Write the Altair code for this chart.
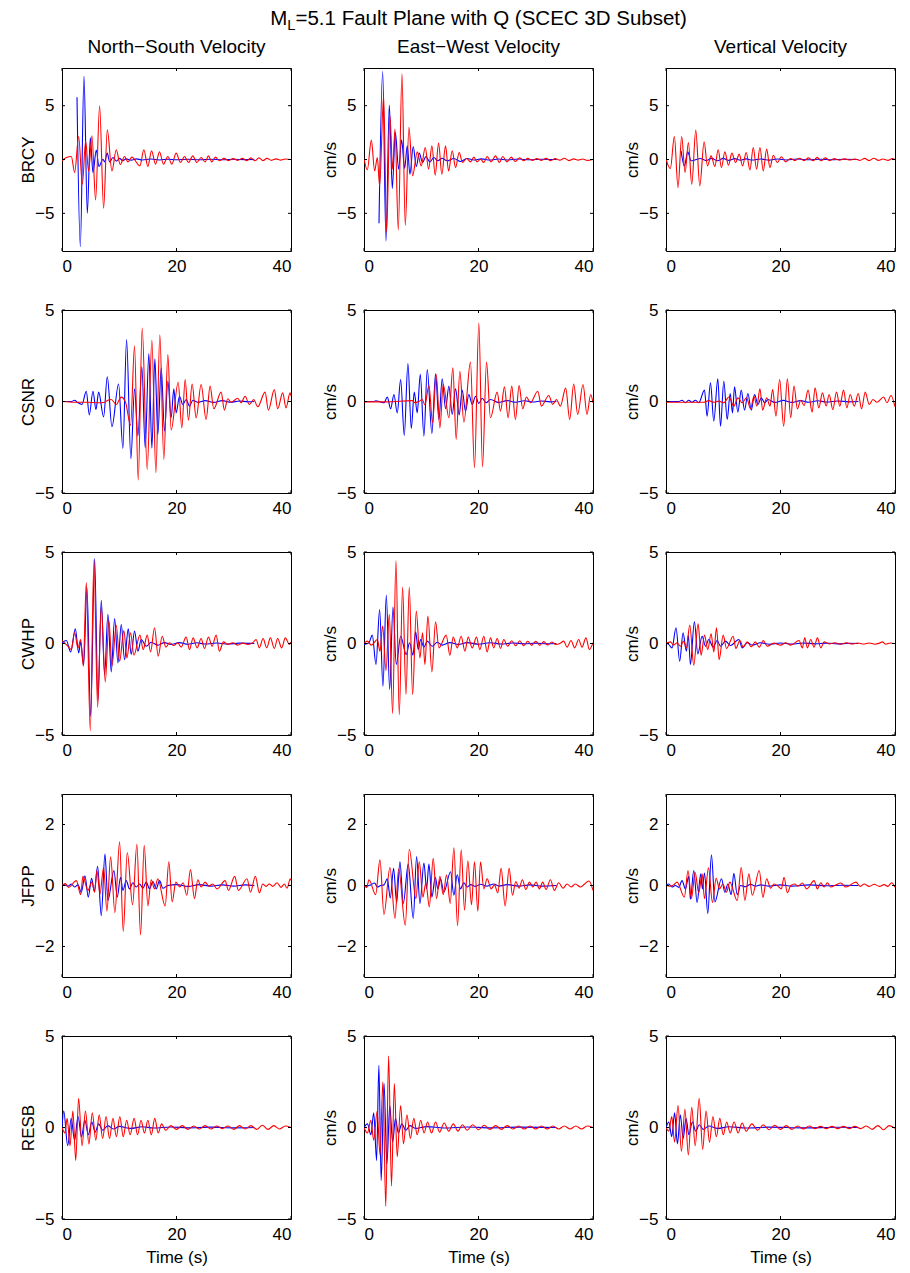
import altair as alt
import pandas as pd

STATIONS = ["BRCY", "CSNR", "CWHP", "JFPP", "RESB"]
COMPONENTS = ["North\u2212South Velocity", "East\u2212West Velocity", "Vertical Velocity"]
Y_LIMITS = [8.5, 5, 5, 3, 5]
Y_TICKS = [[-5, 0, 5], [-5, 0, 5], [-5, 0, 5], [-2, 0, 2], [-5, 0, 5]]
X_TICKS = [0, 20, 40]
TITLE_PARTS = ["M", "L", "=5.1 Fault Plane with Q (SCEC 3D Subset)"]

# ---- BRCY ----
BRCY_NS_BLUE = [(2.62,5.78),(3.2,-8.1),(3.84,7.73),(4.42,-5.0),(4.94,2.02),(5.41,-1.21),(5.99,0.87),(6.45,-0.65),(7.15,0.03),(7.44,-0.22),(7.91,0.59),(8.31,-0.22),(8.9,0.19),(9.5,-0.15),(10.06,0.1),(10.6,-0.1),(11.2,0.06),(12.1,-0.06),(13.0,0.06),(14.0,-0.04),(15.5,0.04),(17.0,-0.04),(18.5,0.03),(20.0,-0.03),(22.0,0.03),(24.0,-0.02),(26.0,0.02),(28.0,-0.02),(30.0,0.02),(32.0,-0.01),(33.6,0.0)]
BRCY_NS_RED = [(0,-0.12),(0.76,0.19),(1.63,0.28),(2.21,-1.21),(2.91,2.14),(3.55,-2.3),(4.13,1.71),(4.65,-1.09),(5.23,2.2),(5.87,-3.76),(6.57,5.0),(7.27,-4.53),(7.91,2.76),(8.72,-1.06),(9.48,0.9),(10.17,-0.47),(10.93,0.28),(11.51,-0.22),(12.21,0.22),(13.6,-0.59),(14.3,0.9),(15.0,-0.65),(15.64,0.81),(16.34,-0.43),(17.03,0.71),(17.73,-0.43),(18.49,0.28),(19.19,-0.43),(19.94,0.59),(20.7,-0.28),(21.4,0.28),(22.1,-0.28),(22.85,0.34),(23.55,-0.28),(24.3,0.19),(25.0,-0.22),(25.58,0.34),(26.16,-0.22),(26.8,0.22),(27.5,-0.12),(28.3,0.1),(29.1,-0.1),(29.9,0.08),(30.7,-0.08),(31.5,0.1),(32.3,-0.1),(33.0,0.15),(33.7,-0.12),(34.4,0.15),(35.1,-0.1),(35.8,0.1),(36.6,-0.08),(37.4,0.06),(38.2,-0.06),(39.0,0.05),(40.0,0.0)]
BRCY_EW_BLUE = [(2.62,-5.93),(3.26,8.17),(3.84,-7.58),(4.42,5.06),(4.94,-2.7),(5.47,2.52),(6.05,-0.9),(6.57,1.83),(7.09,-0.84),(7.56,1.27),(8.02,-1.37),(8.6,1.21),(9.13,-0.65),(9.65,0.59),(10.23,-0.28),(10.81,0.28),(11.51,-0.22),(12.2,0.19),(12.9,-0.12),(13.66,0.12),(14.5,-0.12),(15.7,0.09),(16.86,-0.19),(18.0,0.09),(19.2,-0.05),(20.5,0.06),(22.0,-0.05),(23.5,0.05),(25.0,-0.04),(27.0,0.04),(29.0,-0.03),(31.0,0.03),(33.6,0.0)]
BRCY_EW_RED = [(0,0.09),(0.58,-0.96),(1.28,1.8),(1.86,-1.06),(2.33,0.19),(2.73,-2.45),(3.43,5.93),(3.95,-6.74),(4.53,4.07),(5.0,-0.9),(5.41,2.83),(5.99,-6.55),(6.63,7.95),(7.21,-6.12),(7.85,2.98),(8.49,-1.52),(9.3,0.71),(10.0,-0.59),(10.7,1.12),(11.28,-0.9),(11.86,1.27),(12.44,-1.46),(13.02,1.52),(13.6,-1.37),(14.24,1.27),(14.77,-1.06),(15.41,0.81),(15.99,-0.75),(16.63,0.65),(17.21,-0.28),(17.91,0.09),(18.6,-0.22),(19.19,0.22),(19.77,-0.22),(20.35,0.03),(20.93,-0.28),(21.51,0.28),(22.21,-0.22),(22.97,0.34),(23.66,-0.28),(24.24,0.28),(25.0,-0.22),(25.7,0.22),(26.45,-0.19),(27.2,0.16),(27.9,-0.12),(28.6,0.1),(29.4,-0.08),(30.2,0.08),(31.0,-0.08),(31.8,0.1),(32.6,-0.1),(33.4,0.08),(34.2,-0.06),(35.0,0.12),(35.8,-0.1),(36.6,0.06),(37.4,-0.06),(38.2,0.05),(39.0,-0.08),(40.0,0.0)]
BRCY_V_BLUE = [(2.63,0.81),(3.21,-0.59),(3.8,0.71),(4.38,-0.12),(5.14,-0.03),(6.01,0.09),(7.0,-0.1),(8.0,0.1),(9.0,-0.12),(10.0,0.1),(11.0,-0.08),(12.0,0.08),(13.0,-0.06),(14.0,0.06),(15.0,-0.05),(16.5,0.05),(18.0,-0.06),(19.5,0.05),(21.0,-0.04),(23.0,0.04),(25.0,-0.03),(27.0,0.03),(29.0,-0.03),(31.0,0.02),(33.6,0.0)]
BRCY_V_RED = [(0,0.03),(0.76,-0.84),(1.46,2.14),(2.1,-2.61),(2.74,2.14),(3.33,-1.21),(3.91,1.58),(4.5,-2.3),(5.2,2.73),(5.9,-2.45),(6.66,1.65),(7.24,-0.59),(7.88,0.34),(8.53,-0.65),(9.11,0.9),(9.69,-0.75),(10.28,0.71),(10.92,-0.53),(11.5,0.59),(12.15,-0.28),(12.79,0.5),(13.37,-0.59),(14.01,0.65),(14.66,-0.96),(15.24,1.12),(15.82,-0.9),(16.41,1.12),(16.99,-1.06),(17.58,0.96),(18.16,-0.75),(18.74,0.4),(19.45,-0.28),(20.15,0.25),(20.9,-0.22),(21.78,0.09),(22.5,-0.1),(23.3,0.12),(24.1,-0.1),(24.9,0.15),(25.7,-0.12),(26.4,0.2),(27.1,-0.12),(27.8,0.15),(28.6,-0.1),(29.4,0.08),(30.3,-0.06),(31.2,0.06),(32.1,-0.05),(33.0,0.05),(33.9,-0.08),(34.7,0.1),(35.5,-0.1),(36.3,0.12),(37.1,-0.08),(37.9,0.05),(38.8,-0.08),(39.5,0.08),(40.0,0.0)]

# ---- CSNR ----
CSNR_NS_BLUE = [(0,0),(1.63,0),(2.21,0.07),(2.67,-0.04),(3.49,-0.16),(4.24,0.56),(4.77,-0.73),(5.41,0.56),(5.93,-0.44),(6.4,0.51),(7.27,-0.84),(7.91,1.35),(8.72,-1.38),(9.88,0.96),(10.64,-2.56),(11.28,3.38),(12.03,-3.13),(12.67,0.69),(13.26,-1.89),(13.95,1.89),(14.53,-2.53),(15.17,2.62),(15.7,-2.55),(16.22,2.33),(16.74,-1.8),(17.33,1.84),(17.91,-1.62),(18.49,1.11),(19.07,-0.89),(19.53,0.69),(19.94,-0.62),(20.52,0.29),(21.1,-0.16),(21.69,0.11),(22.27,-0.25),(22.85,0.07),(23.72,-0.04),(25.0,0.05),(26.5,-0.05),(28.0,0.05),(29.5,-0.04),(31.0,0.03),(32.5,-0.02),(33.6,0.0)]
CSNR_NS_RED = [(0,0),(2.21,-0.04),(4.53,-0.04),(6.28,-0.07),(7.44,-0.04),(8.02,0.07),(8.6,0.11),(9.48,-0.16),(10.35,0.24),(11.1,-0.04),(11.98,-1.31),(12.67,3.05),(13.31,-4.29),(14.01,4.02),(14.88,-3.71),(15.7,3.35),(16.4,-3.89),(17.09,3.65),(17.79,-3.16),(18.49,2.56),(19.07,-1.56),(20.29,1.05),(20.93,-1.44),(21.51,1.2),(22.09,-1.02),(22.73,0.96),(23.43,-0.89),(24.3,0.93),(25.17,-0.98),(25.87,0.84),(26.51,-0.4),(27.79,0.51),(28.37,-0.47),(28.95,0.15),(29.53,-0.04),(30.7,0.18),(31.28,-0.07),(31.98,0.29),(32.73,-0.16),(33.49,0.11),(34.19,-0.29),(35.47,0.51),(36.05,-0.47),(37.09,0.65),(37.67,-0.4),(38.55,0.47),(39.13,-0.35),(39.83,0.47),(40.0,0.3)]
CSNR_EW_BLUE = [(0,0),(1.74,0),(2.03,0.04),(2.91,-0.02),(3.49,-0.07),(4.07,0.24),(4.65,-0.4),(5.23,0.38),(5.81,-0.62),(6.4,1.2),(7.03,-1.85),(7.67,2.07),(8.26,-1.47),(8.78,0.51),(9.3,-0.62),(9.83,1.49),(10.47,-1.89),(11.05,1.75),(11.86,-1.75),(12.5,1.51),(13.08,-0.98),(13.66,1.24),(14.24,-0.4),(14.83,0.84),(15.41,-0.71),(15.99,0.69),(16.63,-0.73),(17.15,0.62),(17.73,-0.53),(18.31,0.38),(18.9,-0.16),(19.48,0.29),(20.06,-0.11),(20.64,0.18),(21.34,-0.07),(22.09,0.11),(23.5,-0.05),(25.0,0.05),(26.5,-0.04),(28.0,0.04),(29.5,-0.03),(31.0,0.03),(32.5,-0.02),(33.6,0.0)]
CSNR_EW_RED = [(0,-0.02),(4.07,-0.02),(8.43,0.05),(8.9,-0.07),(9.59,0),(10.17,0.11),(10.64,-0.18),(11.34,0.87),(11.98,-1.16),(12.62,1.47),(13.26,-1.44),(13.84,0.93),(14.83,-0.89),(15.52,1.84),(16.1,-2.07),(16.74,1.65),(17.44,-1.13),(18.6,2.15),(19.3,-3.62),(20.06,4.29),(20.7,-3.58),(21.4,2.15),(22.09,-0.89),(23.26,0.51),(23.84,-0.53),(24.53,0.8),(25.17,-0.89),(25.81,0.84),(26.45,-0.98),(27.09,0.87),(27.73,-0.4),(28.37,0.25),(29.07,-0.07),(30.35,0.56),(30.99,-0.25),(32.27,0.33),(32.97,-0.16),(33.6,0.11),(34.3,-0.25),(35.23,0.73),(35.93,-0.98),(36.63,0.96),(37.33,-0.71),(38.26,0.93),(38.95,-0.71),(39.59,0.38),(40.0,-0.07)]
CSNR_V_BLUE = [(0,0),(2.22,0),(2.8,0.07),(3.39,-0.07),(3.97,0.07),(4.55,-0.04),(5.14,0.07),(5.72,-0.07),(6.72,0.62),(7.18,-0.8),(7.77,1.02),(8.35,-1.07),(9.05,1.24),(9.52,-1.35),(10.1,1.11),(10.69,-0.98),(11.21,0.44),(11.62,-0.62),(11.97,0.8),(12.55,-0.58),(13.14,0.62),(13.72,-0.47),(14.31,0.44),(14.89,-0.47),(15.47,0.38),(16.06,-0.16),(16.64,0.2),(17.23,-0.07),(17.81,0.11),(19.0,-0.05),(20.5,0.06),(22.0,-0.05),(23.5,0.05),(25.0,-0.04),(26.5,0.04),(28.0,-0.03),(30.0,0.03),(32.0,-0.02),(33.6,0.0)]
CSNR_V_RED = [(0,-0.04),(6.6,-0.04),(7.47,0.05),(8.35,-0.04),(9.23,0.02),(10.1,-0.07),(10.98,0.25),(11.85,-0.25),(12.55,0.2),(13.31,-0.07),(14.07,0.2),(14.77,-0.4),(15.36,0.29),(15.88,-0.25),(16.41,0.69),(16.88,-0.47),(17.58,0.2),(18.16,-0.25),(18.63,0.65),(19.21,-0.8),(19.85,1.2),(20.55,-1.35),(21.2,1.24),(21.78,-0.89),(22.36,0.84),(22.95,-0.4),(23.53,0.07),(24.12,-0.22),(24.82,0.62),(25.52,-0.58),(26.04,0.75),(26.69,-0.35),(27.33,0.47),(27.97,-0.25),(28.5,0.38),(29.14,-0.44),(29.78,0.51),(30.36,-0.25),(31.01,0.62),(31.59,-0.35),(32.18,0.38),(32.88,-0.25),(33.58,0.44),(34.16,-0.4),(34.8,0.51),(35.5,-0.16),(36.15,0.11),(36.85,-0.04),(38.01,0.25),(38.6,-0.07),(39.3,0.33),(40.0,-0.29)]

# ---- CWHP ----
CWHP_NS_BLUE = [(0,0.04),(0.76,0.16),(1.51,-0.46),(2.33,0.8),(2.91,-0.51),(3.26,0.09),(3.78,-1.19),(4.36,3.05),(5.0,-3.99),(5.7,4.64),(6.28,-3.13),(6.86,2.36),(7.44,-1.7),(8.02,1.59),(8.6,-1.55),(9.19,1.37),(9.77,-1.06),(10.35,1.04),(10.93,-0.88),(11.57,0.8),(12.09,-0.6),(12.67,0.68),(13.26,-0.42),(13.84,0.22),(14.71,-0.15),(15.58,0.07),(16.74,-0.09),(17.91,0.05),(19.07,-0.05),(20.5,0.05),(22.0,-0.04),(23.5,0.04),(25.0,-0.03),(27.0,0.03),(29.0,-0.03),(31.0,0.02),(33.6,0.0)]
CWHP_NS_RED = [(0,0.16),(1.05,-0.15),(1.63,-0.33),(2.21,0.59),(2.79,-0.24),(3.26,0.22),(3.72,-1.24),(4.24,3.33),(4.94,-4.77),(5.58,4.55),(6.22,-3.49),(6.86,1.99),(7.56,-2.1),(8.2,1.26),(8.72,-1.24),(9.48,0.99),(10.06,-0.97),(10.81,0.71),(11.34,-0.79),(11.98,0.59),(12.56,-0.64),(13.6,0.46),(14.19,-0.33),(14.88,0.46),(15.47,-0.46),(16.16,0.86),(16.8,-0.69),(17.5,0.4),(18.14,-0.2),(18.78,0.04),(19.53,-0.11),(20.23,0.04),(20.81,-0.2),(21.69,0.35),(22.27,-0.33),(22.91,0.31),(23.6,-0.24),(24.3,0.27),(24.88,-0.27),(25.58,0.35),(26.22,-0.15),(26.92,0.46),(27.5,-0.42),(28.2,0.09),(28.95,-0.05),(29.83,0.04),(30.7,-0.09),(31.57,0.02),(32.44,-0.05),(33.31,0.04),(33.9,0.22),(34.48,-0.24),(35.12,0.27),(35.76,-0.24),(36.4,0.31),(37.09,-0.27),(37.67,0.27),(38.37,-0.24),(39.01,0.31),(39.71,-0.05),(40.0,0.09)]
CWHP_EW_BLUE = [(0,-0.05),(0.87,0.04),(1.45,0.46),(2.09,-1.15),(2.73,1.86),(3.31,-2.34),(3.9,2.65),(4.48,-2.52),(5.06,1.99),(5.64,-1.15),(6.4,0.4),(7.38,-0.6),(7.97,0.04),(8.55,-0.64),(9.01,0.64),(9.48,-0.33),(9.88,0.22),(10.47,-0.2),(11.05,0.13),(11.92,-0.15),(12.79,0.07),(13.66,-0.09),(15.0,0.05),(16.5,-0.05),(18.0,0.05),(20.0,-0.04),(22.0,0.04),(24.0,-0.03),(26.0,0.03),(28.0,-0.02),(30.0,0.02),(32.0,-0.02),(33.6,0.0)]
CWHP_EW_RED = [(0,0),(0.58,0.13),(1.28,-0.09),(2.33,0.22),(2.79,-0.42),(3.26,0.95),(3.84,-1.48),(4.42,1.59),(5.0,-3.84),(5.58,4.52),(6.16,-3.89),(6.74,3.09),(7.33,-2.8),(7.91,3.09),(8.49,-2.8),(9.13,1.77),(9.77,-0.79),(10.23,0.58),(10.64,-1.15),(11.16,1.5),(11.86,-1.55),(12.5,1.19),(13.08,-0.24),(14.36,0.46),(15.0,-0.64),(15.58,0.35),(16.28,-0.24),(16.98,0.4),(17.62,-0.42),(18.2,0.35),(18.9,-0.24),(19.65,0.35),(20.23,-0.33),(20.93,0.4),(21.51,-0.46),(22.09,0.31),(22.67,-0.24),(23.26,0.27),(23.84,-0.27),(24.42,0.22),(25.1,-0.15),(25.8,0.15),(26.5,-0.12),(27.2,0.15),(27.9,-0.12),(28.6,0.12),(29.3,-0.1),(30.0,0.12),(30.7,-0.1),(31.4,0.1),(32.1,-0.08),(32.8,0.08),(33.5,-0.05),(34.3,0.02),(34.88,0.13),(35.47,-0.2),(36.16,0.16),(36.8,-0.24),(37.5,0.22),(38.08,-0.2),(38.78,0.31),(39.36,-0.33),(40.0,0.04)]
CWHP_V_BLUE = [(0,0),(0.47,-0.05),(1.05,-0.24),(1.75,0.86),(2.39,-0.97),(2.98,0.59),(3.56,-0.42),(3.91,0.46),(4.26,-1.15),(4.96,1.19),(5.55,-0.57),(6.31,0.4),(6.89,-0.15),(7.47,0.22),(8.23,-0.2),(8.93,0.16),(9.52,-0.15),(10.39,0.13),(11.27,-0.11),(12.73,0.22),(13.31,-0.24),(14.19,0.05),(15.07,-0.09),(16.5,0.04),(18.0,-0.04),(20.0,0.03),(22.0,-0.03),(24.0,0.03),(26.0,-0.02),(28.0,0.02),(30.0,-0.02),(32.0,0.01),(33.6,0.0)]
CWHP_V_RED = [(0,0),(0.76,0.09),(1.34,-0.09),(1.93,0.04),(2.51,-0.15),(3.09,0.13),(3.56,-0.24),(4.15,1.01),(4.85,-1.19),(5.61,1.08),(6.13,-0.64),(6.72,0.46),(7.3,-0.33),(7.88,0.53),(8.35,-0.46),(8.82,0.86),(9.28,-0.88),(9.99,0.46),(10.57,-0.27),(11.74,0.4),(12.2,-0.27),(12.91,0.16),(13.49,-0.2),(14.19,0.09),(14.89,-0.18),(15.59,0.09),(16.29,-0.2),(16.99,0.16),(17.69,-0.15),(18.86,0.02),(20.03,-0.09),(20.9,0.04),(21.78,-0.09),(23.24,0.16),(23.82,-0.24),(24.23,0.31),(24.7,-0.24),(25.28,0.22),(25.87,-0.2),(26.45,0.31),(27.04,-0.24),(27.62,0.09),(28.5,-0.02),(29.5,0.04),(30.5,-0.04),(31.5,0.04),(32.5,-0.03),(33.5,0.03),(34.5,-0.03),(35.5,0.03),(36.5,-0.04),(37.3,0.02),(37.8,0.09),(38.4,-0.04),(39.2,0.03),(40.0,0.0)]

# ---- JFPP ----
JFPP_NS_BLUE = [(0,0),(0.47,0.02),(1.05,-0.02),(1.63,0.05),(2.21,-0.05),(2.79,0.02),(3.37,-0.22),(4.01,0.32),(4.59,-0.38),(5.17,0.24),(5.64,-0.19),(6.22,0.63),(6.86,-0.99),(7.5,1.03),(8.02,-0.49),(9.07,0.49),(9.65,-0.38),(10.23,0.27),(10.64,-0.16),(11.22,0.16),(11.8,-0.11),(12.38,0.09),(12.97,-0.05),(13.55,0.05),(14.13,-0.09),(14.71,0.11),(15.29,-0.11),(15.87,0.13),(16.45,-0.11),(17.03,0.16),(17.62,-0.09),(18.49,0.0),(20.0,0.03),(22.0,-0.03),(24.0,0.03),(26.0,-0.02),(28.0,0.02),(30.0,-0.02),(32.0,0.02),(33.6,0.0)]
JFPP_NS_RED = [(0,0),(0.58,0.06),(1.16,-0.06),(2.5,0.16),(3.26,-0.3),(3.66,0.3),(4.53,-0.16),(5.23,0.11),(5.7,-0.22),(6.1,0.49),(6.63,-0.27),(7.27,0.59),(7.85,-0.84),(8.49,0.94),(9.24,-0.89),(10.06,1.43),(10.7,-1.51),(11.4,1.08),(12.33,-0.63),(13.08,1.35),(13.72,-1.62),(14.36,1.32),(15.0,-0.67),(15.58,0.19),(16.16,-0.11),(16.74,0.22),(18.02,-0.67),(18.66,0.78),(19.24,-0.54),(19.88,0.11),(20.58,-0.05),(21.16,0.09),(21.8,-0.32),(22.44,0.52),(23.14,-0.43),(23.72,0.19),(24.3,-0.05),(25.0,0.11),(25.64,-0.02),(26.34,0.05),(27.09,-0.11),(28.49,0.16),(29.07,-0.16),(30.17,0.3),(30.81,-0.16),(32.33,0.22),(32.91,-0.22),(33.78,0.3),(34.48,-0.24),(35.06,0.05),(35.64,-0.03),(36.22,0.05),(36.8,-0.03),(37.56,0.09),(38.26,-0.06),(38.84,0.05),(39.3,-0.09),(39.88,0.22),(40.0,0.16)]
JFPP_EW_BLUE = [(0,0),(0.58,-0.02),(1.16,0.02),(1.86,0.08),(2.33,-0.05),(2.91,0),(3.49,0.02),(4.07,0.22),(4.59,-0.41),(5.17,0.56),(5.7,-0.56),(6.28,0.78),(6.86,-0.59),(7.73,0.7),(8.6,-1.08),(9.19,0.95),(9.77,-0.59),(10.47,0.74),(10.93,-0.11),(11.34,0.7),(11.86,-0.38),(12.44,0.27),(12.91,-0.11),(13.37,0.22),(13.95,-0.22),(15.12,0.45),(15.7,-0.32),(16.28,0.35),(16.86,-0.11),(17.44,0.09),(18.02,-0.05),(18.6,0.03),(19.48,-0.03),(20.35,0.04),(21.51,-0.02),(22.67,0.05),(23.55,-0.02),(25.0,0.03),(27.0,-0.02),(29.0,0.02),(31.0,-0.02),(33.6,0.0)]
JFPP_EW_RED = [(0,0),(0.47,-0.06),(0.87,0.19),(2.03,-0.3),(2.79,0.84),(3.49,-0.95),(4.53,0.59),(5.41,-1.08),(6.05,0.54),(7.21,-1.3),(7.91,1.19),(9.07,-0.43),(9.65,0.78),(10.29,-0.38),(10.81,0.09),(11.4,-0.7),(12.09,0.89),(12.67,-0.43),(13.26,0.3),(13.84,-0.3),(14.42,0.35),(15.06,-0.59),(15.7,1.24),(16.34,-1.32),(16.98,1.17),(17.56,-0.81),(18.14,0.81),(18.78,-0.63),(19.3,0.78),(19.88,-0.84),(20.35,0.78),(20.93,-0.11),(21.51,0.22),(22.21,-0.11),(22.79,0.02),(23.37,-0.24),(23.95,0.56),(24.65,-0.67),(25.35,0.56),(25.93,-0.32),(26.51,0.13),(27.09,-0.09),(27.67,0.19),(28.26,-0.13),(28.9,0.11),(29.48,-0.05),(30.06,0.11),(30.64,-0.11),(31.22,0.11),(31.8,-0.13),(32.56,0.19),(33.26,-0.16),(34.01,0.09),(34.77,-0.09),(35.47,0.05),(36.16,-0.05),(36.92,0.05),(37.79,-0.05),(39.3,0.15),(40.0,-0.16)]
JFPP_V_BLUE = [(0,0),(0.47,0.05),(1.05,-0.05),(1.64,0),(2.22,-0.06),(2.8,0.16),(3.39,-0.11),(3.97,0.3),(4.26,-0.45),(4.85,0.49),(5.43,-0.56),(6.07,0.38),(6.36,-0.11),(6.72,0.41),(7.3,-0.92),(7.94,1.01),(8.53,-0.54),(9.69,0.22),(10.28,-0.22),(10.8,0.05),(11.39,-0.3),(11.85,0.4),(12.44,-0.3),(13.02,0),(13.9,-0.04),(14.77,0.04),(15.65,-0.02),(16.53,0.02),(18.0,-0.02),(20.0,0.02),(22.0,-0.02),(25.0,0.02),(28.0,-0.01),(31.0,0.01),(33.6,0.0)]
JFPP_V_RED = [(0,0),(0.76,-0.02),(1.34,0.02),(1.93,0.11),(3.21,-0.38),(3.85,0.49),(4.44,-0.43),(5.08,0.43),(5.72,-0.24),(6.31,0.38),(6.72,-0.43),(7.42,0.58),(8.12,-0.56),(8.76,0.24),(9.34,-0.11),(9.93,0.05),(10.57,-0.22),(11.15,0.11),(12.44,-0.49),(13.14,0.59),(13.78,-0.49),(14.48,0.38),(15.07,-0.32),(16.29,0.49),(16.93,-0.39),(17.58,0.22),(18.28,-0.09),(18.86,0.05),(19.56,-0.02),(20.15,-0.11),(20.61,0.27),(21.2,-0.24),(21.78,0),(22.48,0.05),(23.07,-0.02),(23.82,0.08),(24.58,-0.11),(25.87,0.16),(26.45,-0.11),(27.04,0.09),(27.62,-0.05),(28.2,0.09),(28.79,-0.05),(29.66,0.02),(30.54,0.08),(31.42,-0.05),(33.17,0.11),(33.93,-0.03),(34.63,0.05),(35.5,-0.03),(36.38,0.04),(37.26,-0.03),(38.13,0.03),(38.72,-0.03),(39.42,0.09),(40.0,-0.06)]

# ---- RESB ----
RESB_NS_BLUE = [(0,0),(0.3,0.9),(1.0,-1.0),(1.6,0.5),(2.2,-0.7),(2.8,0.6),(3.4,-0.5),(4.0,0.4),(4.6,-0.4),(5.2,0.3),(5.8,-0.25),(6.4,0.2),(7.1,-0.15),(8.0,0.1),(9.0,-0.08),(10.0,0.06),(12.0,-0.05),(14.0,0.04),(16.0,-0.03),(19.0,0.03),(22.0,-0.02),(26.0,0.02),(30.0,-0.02),(33.6,0.0)]
RESB_NS_RED = [(0,0),(0.5,-0.3),(0.9,0.5),(1.4,-1.0),(1.9,0.9),(2.4,-1.8),(2.9,1.6),(3.5,-1.0),(4.1,0.9),(4.7,-0.9),(5.3,0.8),(5.9,-0.7),(6.5,0.7),(7.1,-0.6),(7.7,0.6),(8.3,-0.6),(8.9,0.5),(9.5,-0.5),(10.1,0.6),(10.7,-0.5),(11.3,0.4),(11.9,-0.4),(12.6,0.5),(13.2,-0.4),(13.8,0.4),(14.4,-0.3),(15.0,0.4),(15.6,-0.4),(16.2,0.5),(16.8,-0.3),(17.4,0.2),(18.1,-0.15),(19.0,0.1),(20.0,-0.1),(21.0,0.1),(22.0,-0.1),(23.0,0.08),(24.0,-0.08),(25.0,0.1),(26.0,-0.08),(27.0,0.08),(28.0,-0.06),(29.0,0.08),(30.0,-0.1),(31.0,0.1),(32.0,-0.08),(33.0,0.1),(34.0,-0.1),(35.0,0.12),(36.0,-0.1),(37.0,0.1),(38.0,-0.08),(39.0,0.08),(40.0,0.0)]
RESB_EW_BLUE = [(0,0),(0.6,0.2),(1.2,-0.4),(1.7,0.8),(2.2,-1.8),(2.6,3.4),(3.0,-2.9),(3.5,2.4),(4.0,-2.0),(4.5,1.2),(5.0,-0.8),(5.5,0.5),(6.0,-0.3),(6.6,0.2),(7.3,-0.15),(8.0,0.1),(9.0,-0.05),(11.0,0.05),(14.0,-0.03),(18.0,0.03),(22.0,-0.02),(27.0,0.02),(33.6,0.0)]
RESB_EW_RED = [(0,0),(0.6,-0.3),(1.2,0.4),(1.7,-0.7),(2.3,0.9),(2.8,-1.5),(3.3,2.5),(3.8,-4.3),(4.3,3.9),(4.8,-3.2),(5.3,2.4),(5.8,-1.6),(6.4,1.2),(6.9,-0.9),(7.5,0.7),(8.1,-0.6),(8.7,0.5),(9.3,-0.4),(9.9,0.4),(10.5,-0.3),(11.1,0.3),(11.8,-0.3),(12.5,0.3),(13.2,-0.25),(14.0,0.25),(14.8,-0.2),(15.6,0.2),(16.4,-0.2),(17.2,0.15),(18.0,-0.15),(19.0,0.15),(20.0,-0.12),(21.0,0.12),(22.0,-0.1),(23.0,0.1),(24.0,-0.1),(25.0,0.1),(26.0,-0.08),(27.0,0.08),(28.0,-0.08),(29.0,0.08),(30.0,-0.08),(31.0,0.08),(32.0,-0.08),(33.0,0.08),(34.0,-0.08),(35.0,0.08),(36.0,-0.08),(37.0,0.08),(38.0,-0.08),(39.0,0.08),(40.0,0.0)]
RESB_V_BLUE = [(0,0),(0.5,0.3),(1.0,-0.5),(1.5,0.8),(2.0,-0.9),(2.5,0.7),(3.0,-0.6),(3.5,0.5),(4.0,-0.4),(4.6,0.3),(5.2,-0.2),(5.8,0.15),(6.5,-0.1),(7.5,0.08),(9.0,-0.05),(11.0,0.04),(14.0,-0.03),(18.0,0.02),(24.0,-0.02),(30.0,0.01),(33.6,0.0)]
RESB_V_RED = [(0,0),(0.5,-0.2),(1.0,0.6),(1.5,-0.8),(2.1,1.2),(2.7,-1.3),(3.3,1.0),(3.9,-1.5),(4.5,1.1),(5.1,-1.0),(5.8,1.6),(6.4,-1.2),(7.0,0.9),(7.6,-0.8),(8.2,0.6),(8.8,-0.5),(9.4,0.5),(10.0,-0.4),(10.6,0.3),(11.2,-0.3),(11.9,0.3),(12.6,-0.3),(13.3,0.25),(14.0,-0.2),(15.0,0.2),(16.0,-0.15),(17.0,0.15),(18.0,-0.12),(19.0,0.12),(20.0,-0.1),(21.0,0.1),(22.0,-0.1),(23.0,0.08),(24.0,-0.08),(25.0,0.08),(26.0,-0.06),(27.0,0.06),(28.0,-0.06),(29.0,0.06),(30.0,-0.06),(31.0,0.06),(32.0,-0.06),(33.0,0.06),(34.0,-0.06),(35.0,0.08),(36.0,-0.1),(37.0,0.1),(38.0,-0.12),(39.0,0.1),(40.0,-0.05)]

SERIES = [
    [(BRCY_NS_BLUE, BRCY_NS_RED), (BRCY_EW_BLUE, BRCY_EW_RED), (BRCY_V_BLUE, BRCY_V_RED)],
    [(CSNR_NS_BLUE, CSNR_NS_RED), (CSNR_EW_BLUE, CSNR_EW_RED), (CSNR_V_BLUE, CSNR_V_RED)],
    [(CWHP_NS_BLUE, CWHP_NS_RED), (CWHP_EW_BLUE, CWHP_EW_RED), (CWHP_V_BLUE, CWHP_V_RED)],
    [(JFPP_NS_BLUE, JFPP_NS_RED), (JFPP_EW_BLUE, JFPP_EW_RED), (JFPP_V_BLUE, JFPP_V_RED)],
    [(RESB_NS_BLUE, RESB_NS_RED), (RESB_EW_BLUE, RESB_EW_RED), (RESB_V_BLUE, RESB_V_RED)],
]

W, H = 229, 183
TICK = 3
FONT = "Liberation Sans"
LABEL_SIZE = 17
TITLE_SIZE = 17
COL_SIZE = 19
MAIN_SIZE = 20.5


def text_layer(s, size, x, y, align):
    return alt.Chart(pd.DataFrame({"s": [s]})).mark_text(
        align=align, baseline="alphabetic", fontSize=size, font=FONT, color="black").encode(
        text="s:N", x=alt.value(x), y=alt.value(y))


def panel(r, c):
    lim = Y_LIMITS[r]
    xs = alt.Scale(domain=[0, 40], nice=False, zero=False)
    ys = alt.Scale(domain=[-lim, lim], nice=False, zero=False)
    xaxis = alt.Axis(values=X_TICKS, ticks=False, domain=False, grid=False,
                     labelPadding=7, labelFontSize=LABEL_SIZE, labelColor="black",
                     titleFontSize=TITLE_SIZE, titleFontWeight="normal", titleColor="black",
                     titleY=38, titleBaseline="middle")
    yaxis = alt.Axis(values=Y_TICKS[r], ticks=False, domain=False, grid=False,
                     labelPadding=8, labelFontSize=LABEL_SIZE, labelColor="black",
                     titleFontSize=TITLE_SIZE, titleFontWeight="normal", titleColor="black",
                     titleX=-34, titleY=H / 2, titleBaseline="middle", titleAlign="center")
    xtitle = "Time (s)" if r == 4 else None
    ytitle = STATIONS[r] if c == 0 else "cm/s"

    blue, red = SERIES[r][c]
    bdf = pd.DataFrame(blue, columns=["t", "v"])
    rdf = pd.DataFrame(red, columns=["t", "v"])

    enc_x = alt.X("t:Q", scale=xs, axis=xaxis, title=xtitle)
    enc_y = alt.Y("v:Q", scale=ys, axis=yaxis, title=ytitle)

    blue_line = alt.Chart(bdf).mark_line(color="#0000ff", strokeWidth=1.1, interpolate="monotone", clip=True).encode(x=enc_x, y=enc_y)
    red_line = alt.Chart(rdf).mark_line(color="#ff0000", strokeWidth=1.1, interpolate="monotone", clip=True).encode(
        x=alt.X("t:Q", scale=xs), y=alt.Y("v:Q", scale=ys))

    ytdf = pd.DataFrame({"v": Y_TICKS[r]})
    xtdf = pd.DataFrame({"t": X_TICKS})
    yl = alt.Chart(ytdf).mark_rule(color="black", strokeWidth=1).encode(
        y=alt.Y("v:Q", scale=ys), x=alt.value(0), x2=alt.value(TICK))
    yr = alt.Chart(ytdf).mark_rule(color="black", strokeWidth=1).encode(
        y=alt.Y("v:Q", scale=ys), x=alt.value(W - TICK), x2=alt.value(W))
    xb = alt.Chart(xtdf).mark_rule(color="black", strokeWidth=1).encode(
        x=alt.X("t:Q", scale=xs), y=alt.value(H), y2=alt.value(H - TICK))
    xt = alt.Chart(xtdf).mark_rule(color="black", strokeWidth=1).encode(
        x=alt.X("t:Q", scale=xs), y=alt.value(0), y2=alt.value(TICK))

    layers = [blue_line, red_line, yl, yr, xb, xt]

    if r == 0:
        layers.append(text_layer(COMPONENTS[c], COL_SIZE, W / 2, -15, "center"))
    if r == 0 and c == 1:
        w_m = 0.833 * MAIN_SIZE
        sub = MAIN_SIZE * 0.72
        w_l = 0.556 * sub
        w_rest = 19.09 * MAIN_SIZE
        total = w_m + w_l + w_rest
        x0 = W / 2 - total / 2
        base_y = -43
        layers += [text_layer(TITLE_PARTS[0], MAIN_SIZE, x0, base_y, "left"),
                   text_layer(TITLE_PARTS[1], sub, x0 + w_m, base_y + 5, "left"),
                   text_layer(TITLE_PARTS[2], MAIN_SIZE, x0 + w_m + w_l, base_y, "left")]

    return alt.layer(*layers).properties(width=W, height=H)


panels = [panel(r, c) for r in range(5) for c in range(3)]

chart = alt.concat(*panels, columns=3, spacing={"row": 59, "column": 73}, bounds="flush").properties(
    padding={"left": 10, "top": 0, "right": 5, "bottom": 5}
).configure(font=FONT).configure_view(stroke="black", strokeWidth=1)

chart.save("out.html", embed_options={"renderer": "svg", "actions": False})
